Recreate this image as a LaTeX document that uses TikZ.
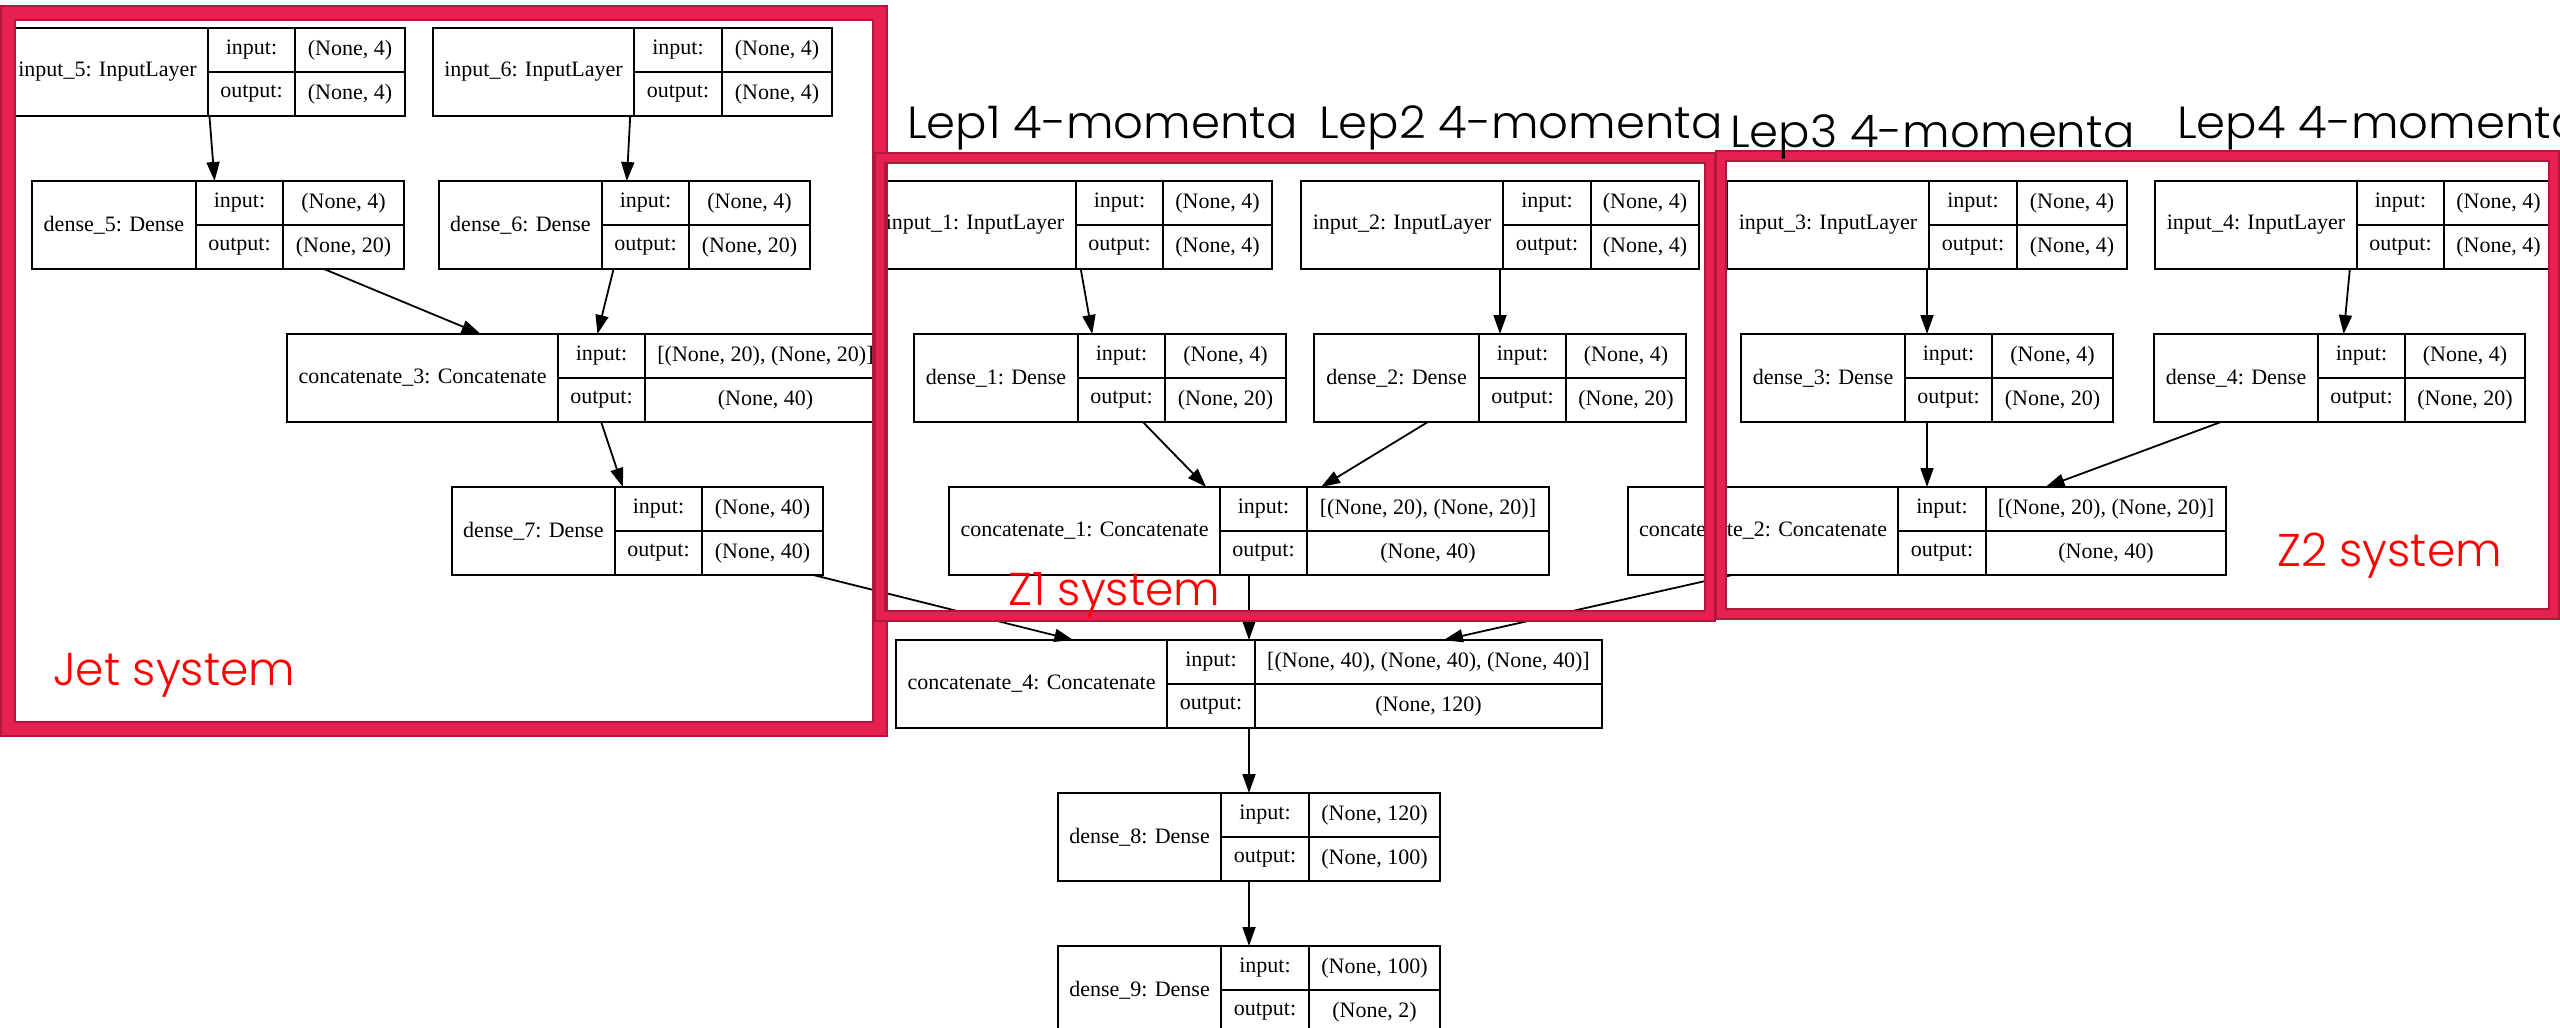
\documentclass[tikz,border=0pt]{standalone}
\usepackage{fontspec}
\setmainfont{Liberation Serif}
\newfontfamily\gothic{Poppins}[UprightFont={* Light}, FakeStretch=1.035]
\newfontfamily\gothicred{Poppins}[UprightFont={* Light}, FakeStretch=0.99]
\usetikzlibrary{arrows.meta}

\definecolor{framefill}{RGB}{228,33,80}
\definecolor{frameedge}{RGB}{178,24,60}
\definecolor{sysred}{RGB}{255,0,0}

\tikzset{
  lbox/.style={draw=black, line width=2pt, fill=white, inner sep=0pt, outer sep=0pt},
  cell/.style={draw=black, line width=1.8pt},
  ltext/.style={inner sep=0pt, font=\fontsize{22}{26}\selectfont},
  edge/.style={draw=black, line width=1.8pt, -{Triangle[length=19pt,width=13pt]}},
  sysframe/.style={draw=frameedge, line width=2pt, double=framefill},
  lep/.style={inner sep=0pt, anchor=base west, font=\gothic\fontsize{45}{50}\selectfont},
  systext/.style={inner sep=0pt, anchor=base west, text=sysred, font=\gothicred\fontsize{46}{52}\selectfont}
}

% one Keras layer: name, left, top, divider 1, divider 2, right, label, input shape, output shape
\newcommand\klayer[9]{%
  \node[lbox, minimum width={#6-#2}, minimum height=88, anchor=north west] (#1) at (#2,#3) {};
  \draw[cell] (#4,#3) -- ++(0,88) (#5,#3) -- ++(0,88) (#4,{#3+44}) -- (#6,{#3+44});
  \node[ltext] (#1-name) at ({(#2+#4)/2},{#3+44}) {#7};
  \node[ltext] (#1-inl) at ({(#4+#5)/2},{#3+22}) {input:};
  \node[ltext] (#1-outl) at ({(#4+#5)/2},{#3+66}) {output:};
  \node[ltext] (#1-inv) at ({(#5+#6)/2},{#3+22}) {#8};
  \node[ltext] (#1-outv) at ({(#5+#6)/2},{#3+66}) {#9};
}

\begin{document}
\begin{tikzpicture}[x=1pt, y=-1pt]
\useasboundingbox[fill=white] (0,0) rectangle (2560,1028);

% jet branch
\klayer{input5}{7}{28}{208}{295}{405}{input\_5: InputLayer}{(None, 4)}{(None, 4)}
\klayer{input6}{433}{28}{634}{722}{832}{input\_6: InputLayer}{(None, 4)}{(None, 4)}
\klayer{dense5}{32}{181}{196}{283}{404}{dense\_5: Dense}{(None, 4)}{(None, 20)}
\klayer{dense6}{439}{181}{602}{689}{810}{dense\_6: Dense}{(None, 4)}{(None, 20)}
\klayer{concat3}{287}{334}{558}{645}{886}{concatenate\_3: Concatenate}{[(None, 20), (None, 20)]}{(None, 40)}
\klayer{dense7}{452}{487}{615}{702}{823}{dense\_7: Dense}{(None, 40)}{(None, 40)}

% first Z branch
\klayer{input1}{874}{181}{1076}{1163}{1272}{input\_1: InputLayer}{(None, 4)}{(None, 4)}
\klayer{input2}{1301}{181}{1503}{1591}{1699}{input\_2: InputLayer}{(None, 4)}{(None, 4)}
\klayer{dense1}{914}{334}{1078}{1165}{1286}{dense\_1: Dense}{(None, 4)}{(None, 20)}
\klayer{dense2}{1314}{334}{1479}{1566}{1686}{dense\_2: Dense}{(None, 4)}{(None, 20)}
\klayer{concat1}{949}{487}{1220}{1307}{1549}{concatenate\_1: Concatenate}{[(None, 20), (None, 20)]}{(None, 40)}

% second Z branch
\klayer{input3}{1727}{181}{1929}{2017}{2127}{input\_3: InputLayer}{(None, 4)}{(None, 4)}
\klayer{input4}{2155}{181}{2357}{2444}{2553}{input\_4: InputLayer}{(None, 4)}{(None, 4)}
\klayer{dense3}{1741}{334}{1905}{1992}{2113}{dense\_3: Dense}{(None, 4)}{(None, 20)}
\klayer{dense4}{2154}{334}{2318}{2405}{2525}{dense\_4: Dense}{(None, 4)}{(None, 20)}
\klayer{concat2}{1628}{487}{1898}{1986}{2226}{concatenate\_2: Concatenate}{[(None, 20), (None, 20)]}{(None, 40)}

% merged head
\klayer{concat4}{896}{640}{1167}{1255}{1602}{concatenate\_4: Concatenate}{[(None, 40), (None, 40), (None, 40)]}{(None, 120)}
\klayer{dense8}{1058}{793}{1221}{1309}{1440}{dense\_8: Dense}{(None, 120)}{(None, 100)}
\klayer{dense9}{1058}{946}{1221}{1309}{1440}{dense\_9: Dense}{(None, 100)}{(None, 2)}

% connections
\draw[edge] (input5) -- (dense5);
\draw[edge] (input6) -- (dense6);
\draw[edge] (dense5) -- (concat3);
\draw[edge] (dense6) -- (concat3);
\draw[edge] (concat3) -- (dense7);
\draw[edge] (input1) -- (dense1);
\draw[edge] (input2) -- (dense2);
\draw[edge] (dense1) -- (concat1);
\draw[edge] (dense2) -- (concat1);
\draw[edge] (input3) -- (dense3);
\draw[edge] (input4) -- (dense4);
\draw[edge] (dense3) -- (concat2);
\draw[edge] (dense4) -- (concat2);
\draw[edge] (dense7) -- (concat4);
\draw[edge] (concat1) -- (concat4);
\draw[edge] (concat2) -- (concat4);
\draw[edge] (concat4) -- (dense8);
\draw[edge] (dense8) -- (dense9);

% subsystem frames
\draw[sysframe, double distance=12pt] (8,13) rectangle (880,729);
\draw[sysframe, double distance=8pt] (880,158) rectangle (1710,616);
\draw[sysframe, double distance=8pt] (1721,156) rectangle (2554,614);

% input captions
\node[lep] (lep1) at (907,138) {Lep1 4-momenta};
\node[lep] (lep2) at (1319,138) {Lep2 4-momenta};
\node[lep] (lep3) at (1730,147) {Lep3 4-momenta};
\node[lep] (lep4) at (2177,138) {Lep4 4-momenta};

% subsystem names
\node[systext] (jetsys) at (53,685) {Jet system};
\node[systext] (z1sys) at (1008,605) {Z1 system};
\node[systext] (z2sys) at (2277,566) {Z2 system};
\end{tikzpicture}
\end{document}
